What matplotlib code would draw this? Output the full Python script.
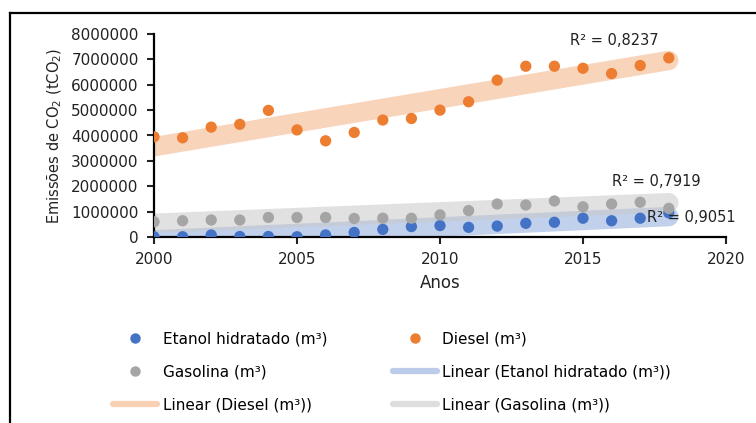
import numpy as np
import matplotlib.pyplot as plt
from matplotlib.lines import Line2D

anos = list(range(2000, 2019))

etanol = [10000, 10000, 80000, 20000, 20000, 10000, 80000, 180000, 300000, 410000,
          450000, 380000, 430000, 540000, 580000, 740000, 640000, 740000, 950000]
diesel = [3950000, 3910000, 4330000, 4440000, 4990000, 4220000, 3790000, 4120000, 4610000, 4670000,
          5000000, 5330000, 6180000, 6730000, 6730000, 6650000, 6440000, 6760000, 7060000]
gasolina = [600000, 640000, 670000, 670000, 770000, 770000, 770000, 730000, 740000, 740000,
            870000, 1040000, 1300000, 1260000, 1420000, 1190000, 1300000, 1370000, 1130000]

nomes = ["Etanol hidratado (m³)", "Diesel (m³)", "Gasolina (m³)"]
cores = ["#4472C4", "#ED7D31", "#A5A5A5"]
cores_tend = ["#8FAADC", "#F4B183", "#C9C9C9"]
r2_textos = ["R² = 0,9051", "R² = 0,8237", "R² = 0,7919"]
r2_pos = [(2017.25, 750000), (2014.55, 7760000), (2016.0, 2200000)]

W, H = 756, 423
fig = plt.figure(figsize=(W / 100, H / 100), dpi=100)
ax = fig.add_axes([154 / W, 1 - 237 / H, (726 - 154) / W, (237 - 34) / H])

series = [etanol, diesel, gasolina]
x = np.array(anos)
for s, cor_t in zip(series, cores_tend):
    a, b = np.polyfit(x, np.array(s, dtype=float), 1)
    ax.plot(x, a * x + b, color=cor_t, lw=14, alpha=0.55, solid_capstyle="round", zorder=1)

for s, cor in zip(series, cores):
    ax.scatter(anos, s, s=66, color=cor, edgecolors="none", zorder=3)

for txt, (px, py) in zip(r2_textos, r2_pos):
    ax.text(px, py, txt, fontsize=10.5, va="center", ha="left", color="#222222", zorder=4)

ax.set_xlim(2000, 2020)
ax.set_ylim(0, 8000000)
ax.set_xticks(range(2000, 2021, 5))
ax.set_yticks(range(0, 8000001, 1000000))
ax.set_yticklabels([str(v) for v in range(0, 8000001, 1000000)])
for sp in ["top", "right"]:
    ax.spines[sp].set_visible(False)
for sp in ["left", "bottom"]:
    ax.spines[sp].set_linewidth(1.6)
ax.tick_params(axis="both", length=5, width=1.5, pad=6, labelsize=11, colors="#222222")
ax.tick_params(axis="y", pad=6)
ax.set_xlabel("Anos", fontsize=12, labelpad=5, color="#222222")
ax.set_ylabel(r"Emissões de CO$_2$ (tCO$_2$)", fontsize=10.5, labelpad=5, color="#222222")

# legenda (ordem por linhas como no Excel)
h_et = Line2D([], [], ls="none", marker="o", ms=7.5, color=cores[0], mec="none")
h_di = Line2D([], [], ls="none", marker="o", ms=7.5, color=cores[1], mec="none")
h_ga = Line2D([], [], ls="none", marker="o", ms=7.5, color=cores[2], mec="none")
l_et = Line2D([], [], lw=4.5, color=cores_tend[0], alpha=0.6, solid_capstyle="round")
l_di = Line2D([], [], lw=4.5, color=cores_tend[1], alpha=0.6, solid_capstyle="round")
l_ga = Line2D([], [], lw=4.5, color=cores_tend[2], alpha=0.6, solid_capstyle="round")
handles = [h_et, h_ga, l_di, h_di, l_et, l_ga]
labels = [nomes[0], nomes[2], "Linear (" + nomes[1] + ")",
          nomes[1], "Linear (" + nomes[0] + ")", "Linear (" + nomes[2] + ")"]
fig.legend(handles, labels, loc="upper left", bbox_to_anchor=(113 / W, 1 - 331 / H),
           ncol=2, frameon=False, borderpad=0, borderaxespad=0, handlelength=2.9,
           handletextpad=0.35, labelspacing=1.18, columnspacing=4.3,
           prop={"size": 11})

# moldura
fig.add_artist(Line2D([10 / W, 1], [1 - 13 / H, 1 - 13 / H], color="black", lw=1.6))
fig.add_artist(Line2D([10 / W, 10 / W], [0, 1 - 13 / H], color="black", lw=1.6))

fig.savefig("out.png", dpi=100)
